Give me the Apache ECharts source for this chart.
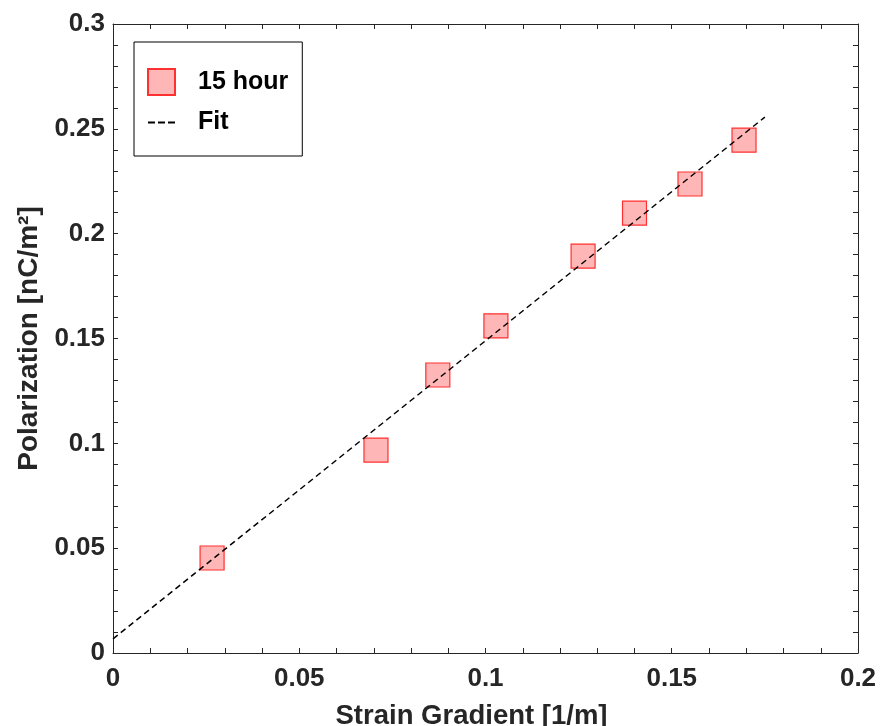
<!DOCTYPE html>
<html><head><meta charset="utf-8">
<script src="https://cdn.jsdelivr.net/npm/echarts@6/dist/echarts.min.js"></script>
<style>html,body{margin:0;padding:0;background:#fff}#c{width:880px;height:726px}</style>
</head><body><div id="c"></div>
<script>
const strainGradient = [0.0266, 0.0706, 0.0872, 0.1028, 0.1262, 0.1400, 0.1549, 0.1694];
const polarization   = [0.0453, 0.0968, 0.1326, 0.1560, 0.1893, 0.2098, 0.2237, 0.2446];
const fitX = [0, 0.175];
const fitY = [0.0067, 0.2556];
const seriesNames = ['15 hour', 'Fit'];

const axisColor = '#262626';
const font = 'Liberation Sans, Arial, Helvetica, sans-serif';
const chart = echarts.init(document.getElementById('c'), null, {renderer: 'canvas'});
function common() {
  return {
    axisLine: {show: true, onZero: false, lineStyle: {color: axisColor, width: 1}},
    axisTick: {show: true, inside: true, length: 5, lineStyle: {color: axisColor}},
    minorTick: {show: true, splitNumber: 5, length: 5, lineStyle: {color: axisColor}},
    splitLine: {show: false},
    minorSplitLine: {show: false}
  };
}
chart.setOption({
  animation: false,
  grid: {left: 113, right: 22, top: 24, bottom: 73, containLabel: false, outerBoundsMode: 'none'},
  xAxis: [
    Object.assign({type: 'value', min: 0, max: 0.2, interval: 0.05, position: 'bottom',
      name: 'Strain Gradient [1/m]', nameLocation: 'middle', nameGap: 49,
      nameTextStyle: {fontFamily: font, fontWeight: 'bold', fontSize: 27.5, color: axisColor, padding: [0, 28, 0, 0]},
      axisLabel: {fontFamily: font, fontWeight: 'bold', fontSize: 26, color: axisColor, margin: 13}}, common()),
    Object.assign({type: 'value', min: 0, max: 0.2, interval: 0.05, position: 'top',
      axisLabel: {show: false}}, common())
  ],
  yAxis: [
    Object.assign({type: 'value', min: 0, max: 0.3, interval: 0.05, position: 'left',
      name: 'Polarization [nC/m\u00B2]', nameLocation: 'middle', nameGap: 59, nameRotate: 90,
      nameTextStyle: {fontFamily: font, fontWeight: 'bold', fontSize: 28, color: axisColor},
      axisLabel: {fontFamily: font, fontWeight: 'bold', fontSize: 26, color: axisColor, margin: 8}}, common()),
    Object.assign({type: 'value', min: 0, max: 0.3, interval: 0.05, position: 'right',
      axisLabel: {show: false}}, common())
  ],
  legend: {
    orient: 'vertical', left: 134, top: 42,
    data: [
      {name: seriesNames[0], icon: 'rect'},
      {name: seriesNames[1], icon: 'path://M0,0h8v2.5h-8z M11.5,0h8v2.5h-8z M23,0h8v2.5h-8z'}
    ],
    backgroundColor: '#fff', borderColor: '#000', borderWidth: 1,
    padding: [26, 14, 21, 13],
    itemWidth: 27, itemHeight: 26, itemGap: 14,
    textStyle: {fontFamily: font, fontWeight: 'bold', fontSize: 25, color: '#000', padding: [0, 0, 0, 18]}
  },
  series: [
    {
      name: seriesNames[1], type: 'line', showSymbol: false, symbol: 'none',
      data: fitX.map((x, i) => [x, fitY[i]]),
      lineStyle: {color: '#000', width: 1.5, type: [6, 4]},
      itemStyle: {color: '#000'}, z: 3
    },
    {
      name: seriesNames[0], type: 'scatter', symbol: 'rect', symbolSize: 24,
      data: strainGradient.map((x, i) => [x, polarization[i]]),
      itemStyle: {color: '#ffb6b6', borderColor: '#ff3030', borderWidth: 1.2, opacity: 1},
      z: 2
    }
  ]
});
</script></body></html>
